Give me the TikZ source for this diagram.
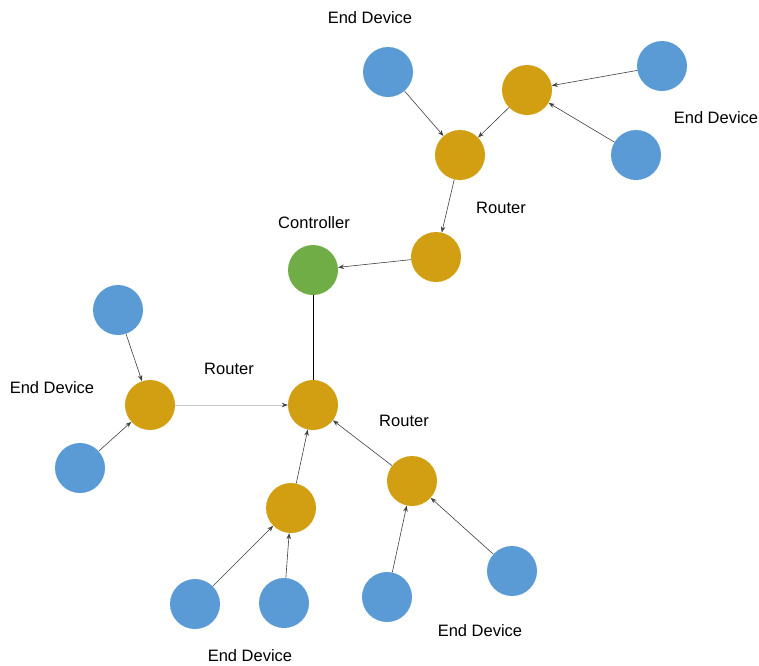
\documentclass[tikz,border=0pt]{standalone}
\usepackage{fontspec}
\setmainfont{Liberation Sans}
\usetikzlibrary{arrows.meta}
\definecolor{devblue}{HTML}{5B9BD5}
\definecolor{routgold}{HTML}{D29F13}
\definecolor{ctrlgreen}{HTML}{70AD47}
\definecolor{linkgray}{HTML}{404040}
\definecolor{lightlink}{HTML}{C8C8C8}
\tikzset{
  dev/.style={circle, fill=devblue, minimum size=50pt, inner sep=0pt},
  rout/.style={circle, fill=routgold, minimum size=50pt, inner sep=0pt},
  ctrl/.style={circle, fill=ctrlgreen, minimum size=50pt, inner sep=0pt},
  lbl/.style={font=\fontsize{16.5}{19}\selectfont, inner sep=0pt},
  link/.style={draw=linkgray, line width=0.6pt, -{Stealth[length=6pt,width=4.5pt]}},
  softlink/.style={draw=lightlink, line width=0.8pt, -{Stealth[length=6pt,width=4.5pt,color=linkgray]}},
}
\begin{document}
\begin{tikzpicture}[x=1pt,y=-1pt]
\useasboundingbox (0,0) rectangle (759,665);
% nodes
\node[dev]  (e1)  at (388,72)  {};
\node[rout] (rtr) at (527,90)  {};
\node[dev]  (e2)  at (662,66)  {};
\node[dev]  (e3)  at (636,155) {};
\node[rout] (rt)  at (460,155) {};
\node[rout] (rm)  at (436,257) {};
\node[ctrl] (c)   at (313,270) {};
\node[rout] (rc)  at (313,405) {};
\node[dev]  (elt) at (118,310) {};
\node[rout] (rl)  at (150,405) {};
\node[dev]  (elb) at (80,468)  {};
\node[rout] (rbl) at (291,508) {};
\node[rout] (rbr) at (412,481) {};
\node[dev]  (b1)  at (195,604) {};
\node[dev]  (b2)  at (284,603) {};
\node[dev]  (b3)  at (387,597) {};
\node[dev]  (b4)  at (512,571) {};
% labels
\node[lbl] (l1) at (370,18)  {End Device};
\node[lbl] (l2) at (716,118) {End Device};
\node[lbl] (l3) at (501,208) {Router};
\node[lbl] (l4) at (314,223) {Controller};
\node[lbl] (l5) at (229,369) {Router};
\node[lbl] (l6) at (52,388)  {End Device};
\node[lbl] (l7) at (404,421) {Router};
\node[lbl] (l8) at (480,631) {End Device};
\node[lbl] (l9) at (250,656) {End Device};
% links
\draw[link] (e1) -- (rt);
\draw[link] (rtr) -- (rt);
\draw[link] (e2) -- (rtr);
\draw[link] (e3) -- (rtr);
\draw[link] (rt) -- (rm);
\draw[link] (rm) -- (c);
\draw[draw=black, line width=0.6pt] (c) -- (rc);
\draw[link] (elt) -- (rl);
\draw[link] (elb) -- (rl);
\draw[softlink] (rl) -- (rc);
\draw[link] (rbl) -- (rc);
\draw[link] (rbr) -- (rc);
\draw[link] (b1) -- (rbl);
\draw[link] (b2) -- (rbl);
\draw[link] (b3) -- (rbr);
\draw[link] (b4) -- (rbr);
\end{tikzpicture}
\end{document}
